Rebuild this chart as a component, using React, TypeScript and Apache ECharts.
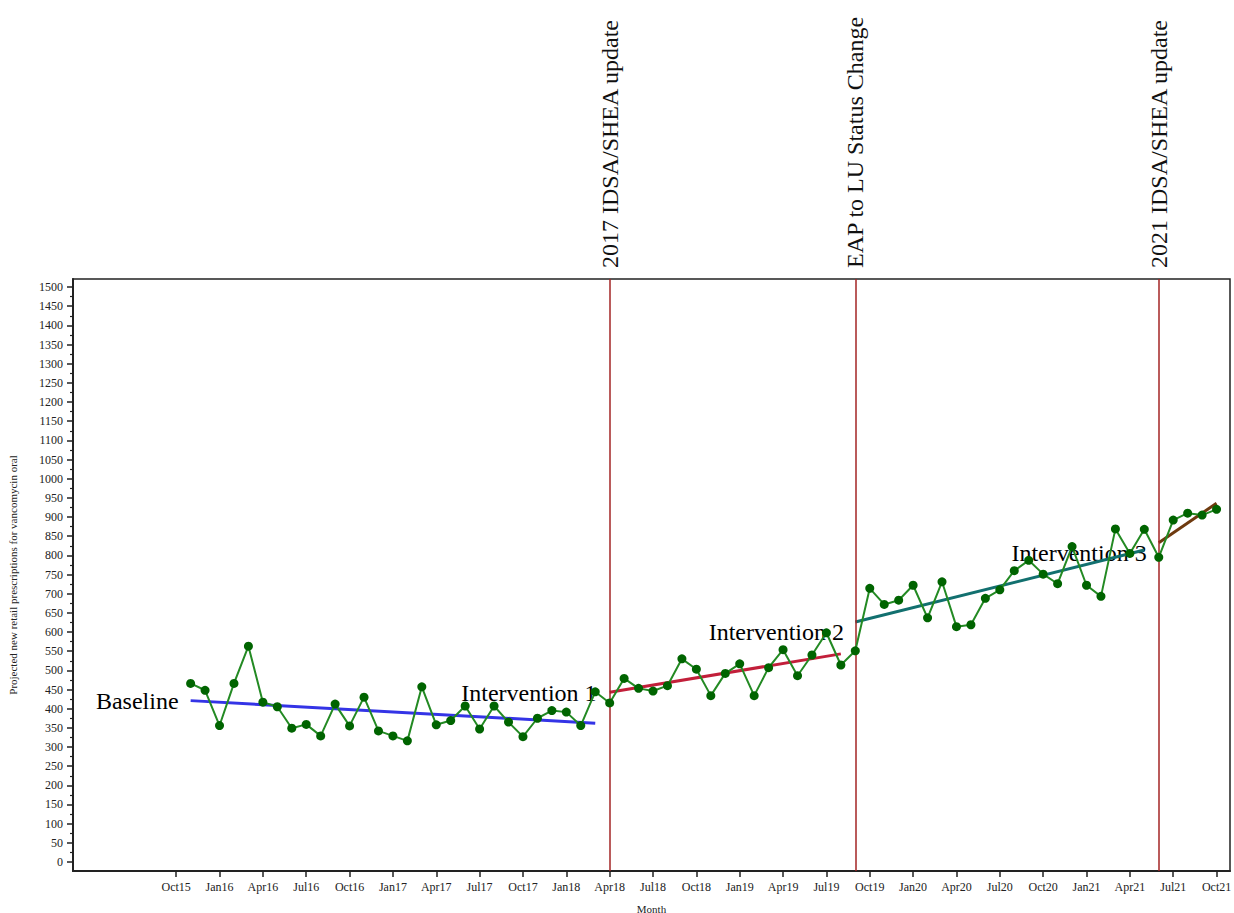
import React, { useEffect, useRef } from 'react';
import * as echarts from 'echarts';

const FONT = "'Liberation Serif', 'Times New Roman', Times, serif";

// months counted from Oct 2015 (= 0); first observation is Nov 2015
const firstMonth = 1;
const prescriptions = [
  466, 448, 356, 466, 563, 417, 405, 349, 359, 329, 412, 355,
  430, 342, 329, 316, 457, 358, 369, 407, 347, 407, 365, 327,
  375, 395, 391, 356, 444, 415, 479, 453, 446, 460, 530, 503,
  434, 492, 517, 434, 507, 554, 486, 540, 598, 514, 551, 714,
  672, 683, 722, 637, 731, 614, 619, 688, 710, 760, 787, 751,
  726, 823, 722, 693, 869, 805, 868, 795, 892, 910, 905, 920,
];

const tickLabels = [
  'Oct15', 'Jan16', 'Apr16', 'Jul16', 'Oct16', 'Jan17', 'Apr17', 'Jul17', 'Oct17',
  'Jan18', 'Apr18', 'Jul18', 'Oct18', 'Jan19', 'Apr19', 'Jul19', 'Oct19', 'Jan20',
  'Apr20', 'Jul20', 'Oct20', 'Jan21', 'Apr21', 'Jul21', 'Oct21',
];
const tickMonths = [0, 3, 6, 9, 12, 15, 18, 21, 24, 27, 30, 33, 36, 39, 42, 45, 48, 51, 54, 57, 60, 63, 66, 69, 72];

const yMajorTicks = [
  0, 50, 100, 150, 200, 250, 300, 350, 400, 450, 500, 550, 600, 650, 700, 750,
  800, 850, 900, 950, 1000, 1050, 1100, 1150, 1200, 1250, 1300, 1350, 1400, 1450, 1500,
];
const yMinorTicks = [
  25, 75, 125, 175, 225, 275, 325, 375, 425, 475, 525, 575, 625, 675, 725, 775,
  825, 875, 925, 975, 1025, 1075, 1125, 1175, 1225, 1275, 1325, 1375, 1425, 1475,
];

const eventMonths = [30, 47, 68];
const eventLabels = ['2017 IDSA/SHEA update', 'EAP to LU Status Change', '2021 IDSA/SHEA update'];

const segmentNames = ['Baseline', 'Intervention 1', 'Intervention 2', 'Intervention 3'];
const segmentStartMonth = [1, 30, 47, 68];
const segmentEndMonth = [29, 46, 67, 72];
const segmentStartValue = [421, 443, 626, 833];
const segmentEndValue = [362, 543, 814, 936];
const segmentColors = ['#3434e6', '#c21f3a', '#12706f', '#6e3a0f'];
const segmentLabelMonth = [0.2, 29.13, 46.25, 67.2];
const segmentLabelValue = [420, 440, 601, 805];

const X_MIN = -7.14;
const X_MAX = 72.93;
const Y_MIN = -23.5;
const Y_MAX = 1521;

export default function App() {
  const ref = useRef<HTMLDivElement>(null);

  useEffect(() => {
    if (!ref.current) return;
    const chart = echarts.init(ref.current, null, { renderer: 'svg' });

    const trendSeries = segmentNames.map((name, i) => ({
      name,
      type: 'line',
      data: [
        [segmentStartMonth[i], segmentStartValue[i]],
        [segmentEndMonth[i], segmentEndValue[i]],
      ],
      symbol: 'none',
      lineStyle: { color: segmentColors[i], width: 3 },
      silent: true,
      z: 3,
    }));

    const option: any = {
      animation: false,
      backgroundColor: '#ffffff',
      grid: {
        left: 73,
        right: 4,
        top: 279,
        bottom: 42,
        show: true,
        borderColor: '#222',
        borderWidth: 1.5,
        backgroundColor: 'transparent',
        containLabel: false,
        outerBoundsMode: 'none',
      },
      xAxis: {
        type: 'value',
        min: X_MIN,
        max: X_MAX,
        name: 'Month',
        nameLocation: 'middle',
        nameGap: 32,
        nameTextStyle: { fontFamily: FONT, fontSize: 11, color: '#222' },
        axisLine: { show: true, onZero: false, lineStyle: { color: '#222', width: 2 } },
        axisTick: {
          show: true,
          customValues: tickMonths,
          length: 6,
          lineStyle: { color: '#222', width: 1.5 },
        },
        axisLabel: {
          customValues: tickMonths,
          formatter: (v: number) => {
            const k = tickMonths.indexOf(Math.round(v));
            return k >= 0 ? tickLabels[k] : '';
          },
          fontFamily: FONT,
          fontSize: 12,
          color: '#222',
          margin: 10,
        },
        splitLine: { show: false },
      },
      yAxis: [
        {
          type: 'value',
          position: 'left',
          min: Y_MIN,
          max: Y_MAX,
          name: 'Projected new retail prescriptions for vancomycin oral',
          nameLocation: 'middle',
          nameGap: 55,
          nameRotate: 90,
          nameTextStyle: { fontFamily: FONT, fontSize: 11, color: '#222' },
          axisLine: { show: true, onZero: false, lineStyle: { color: '#222', width: 2 } },
          axisTick: {
            show: true,
            customValues: yMajorTicks,
            length: 6,
            lineStyle: { color: '#222', width: 1.5 },
          },
          axisLabel: {
            customValues: yMajorTicks,
            formatter: (v: number) => String(Math.round(v)),
            fontFamily: FONT,
            fontSize: 12,
            color: '#222',
            margin: 10,
          },
          splitLine: { show: false },
        },
        {
          type: 'value',
          position: 'left',
          min: Y_MIN,
          max: Y_MAX,
          axisLine: { show: false, onZero: false },
          axisTick: {
            show: true,
            customValues: yMinorTicks,
            length: 3,
            lineStyle: { color: '#222', width: 1.2 },
          },
          axisLabel: { show: false },
          splitLine: { show: false },
        },
      ],
      series: [
        {
          type: 'scatter',
          data: segmentNames.map((n, i) => ({ name: n, value: [segmentLabelMonth[i], segmentLabelValue[i]] })),
          symbolSize: 1,
          itemStyle: { color: 'rgba(0,0,0,0)' },
          silent: true,
          z: 1,
          label: {
            show: true,
            position: 'left',
            distance: 0,
            formatter: (p: any) => p.name,
            fontFamily: FONT,
            fontSize: 24,
            color: '#000000',
            opacity: 1,
          },
        },
        ...trendSeries,
        {
          name: 'Prescriptions',
          type: 'line',
          data: prescriptions.map((v, i) => [firstMonth + i, v]),
          symbol: 'circle',
          symbolSize: 9,
          showSymbol: true,
          lineStyle: { color: '#238a23', width: 2 },
          itemStyle: { color: '#006400' },
          silent: true,
          z: 5,
          markLine: {
            silent: true,
            symbol: ['none', 'none'],
            label: { show: false },
            lineStyle: { color: '#a32424', width: 1.5, type: 'solid' },
            data: eventMonths.map((m) => ({ xAxis: m })),
          },
        },
      ],
    };

    chart.setOption(option);

    const topPx = chart.convertToPixel({ yAxisIndex: 0 }, Y_MAX) as number;
    const graphics = eventMonths.map((m, i) => {
      const px = chart.convertToPixel({ xAxisIndex: 0 }, m) as number;
      return {
        type: 'text',
        x: px,
        y: topPx - 11,
        rotation: Math.PI / 2,
        silent: true,
        style: {
          text: eventLabels[i],
          fontFamily: FONT,
          fontSize: 24,
          fill: '#111',
          align: 'left',
          verticalAlign: 'middle',
        },
      };
    });
    chart.setOption({ graphic: graphics });

    return () => {
      chart.dispose();
    };
  }, []);

  return (
    <div
      ref={ref}
      style={{ position: 'absolute', left: 0, top: 0, width: 1234, height: 913, background: '#fff' }}
    />
  );
}
